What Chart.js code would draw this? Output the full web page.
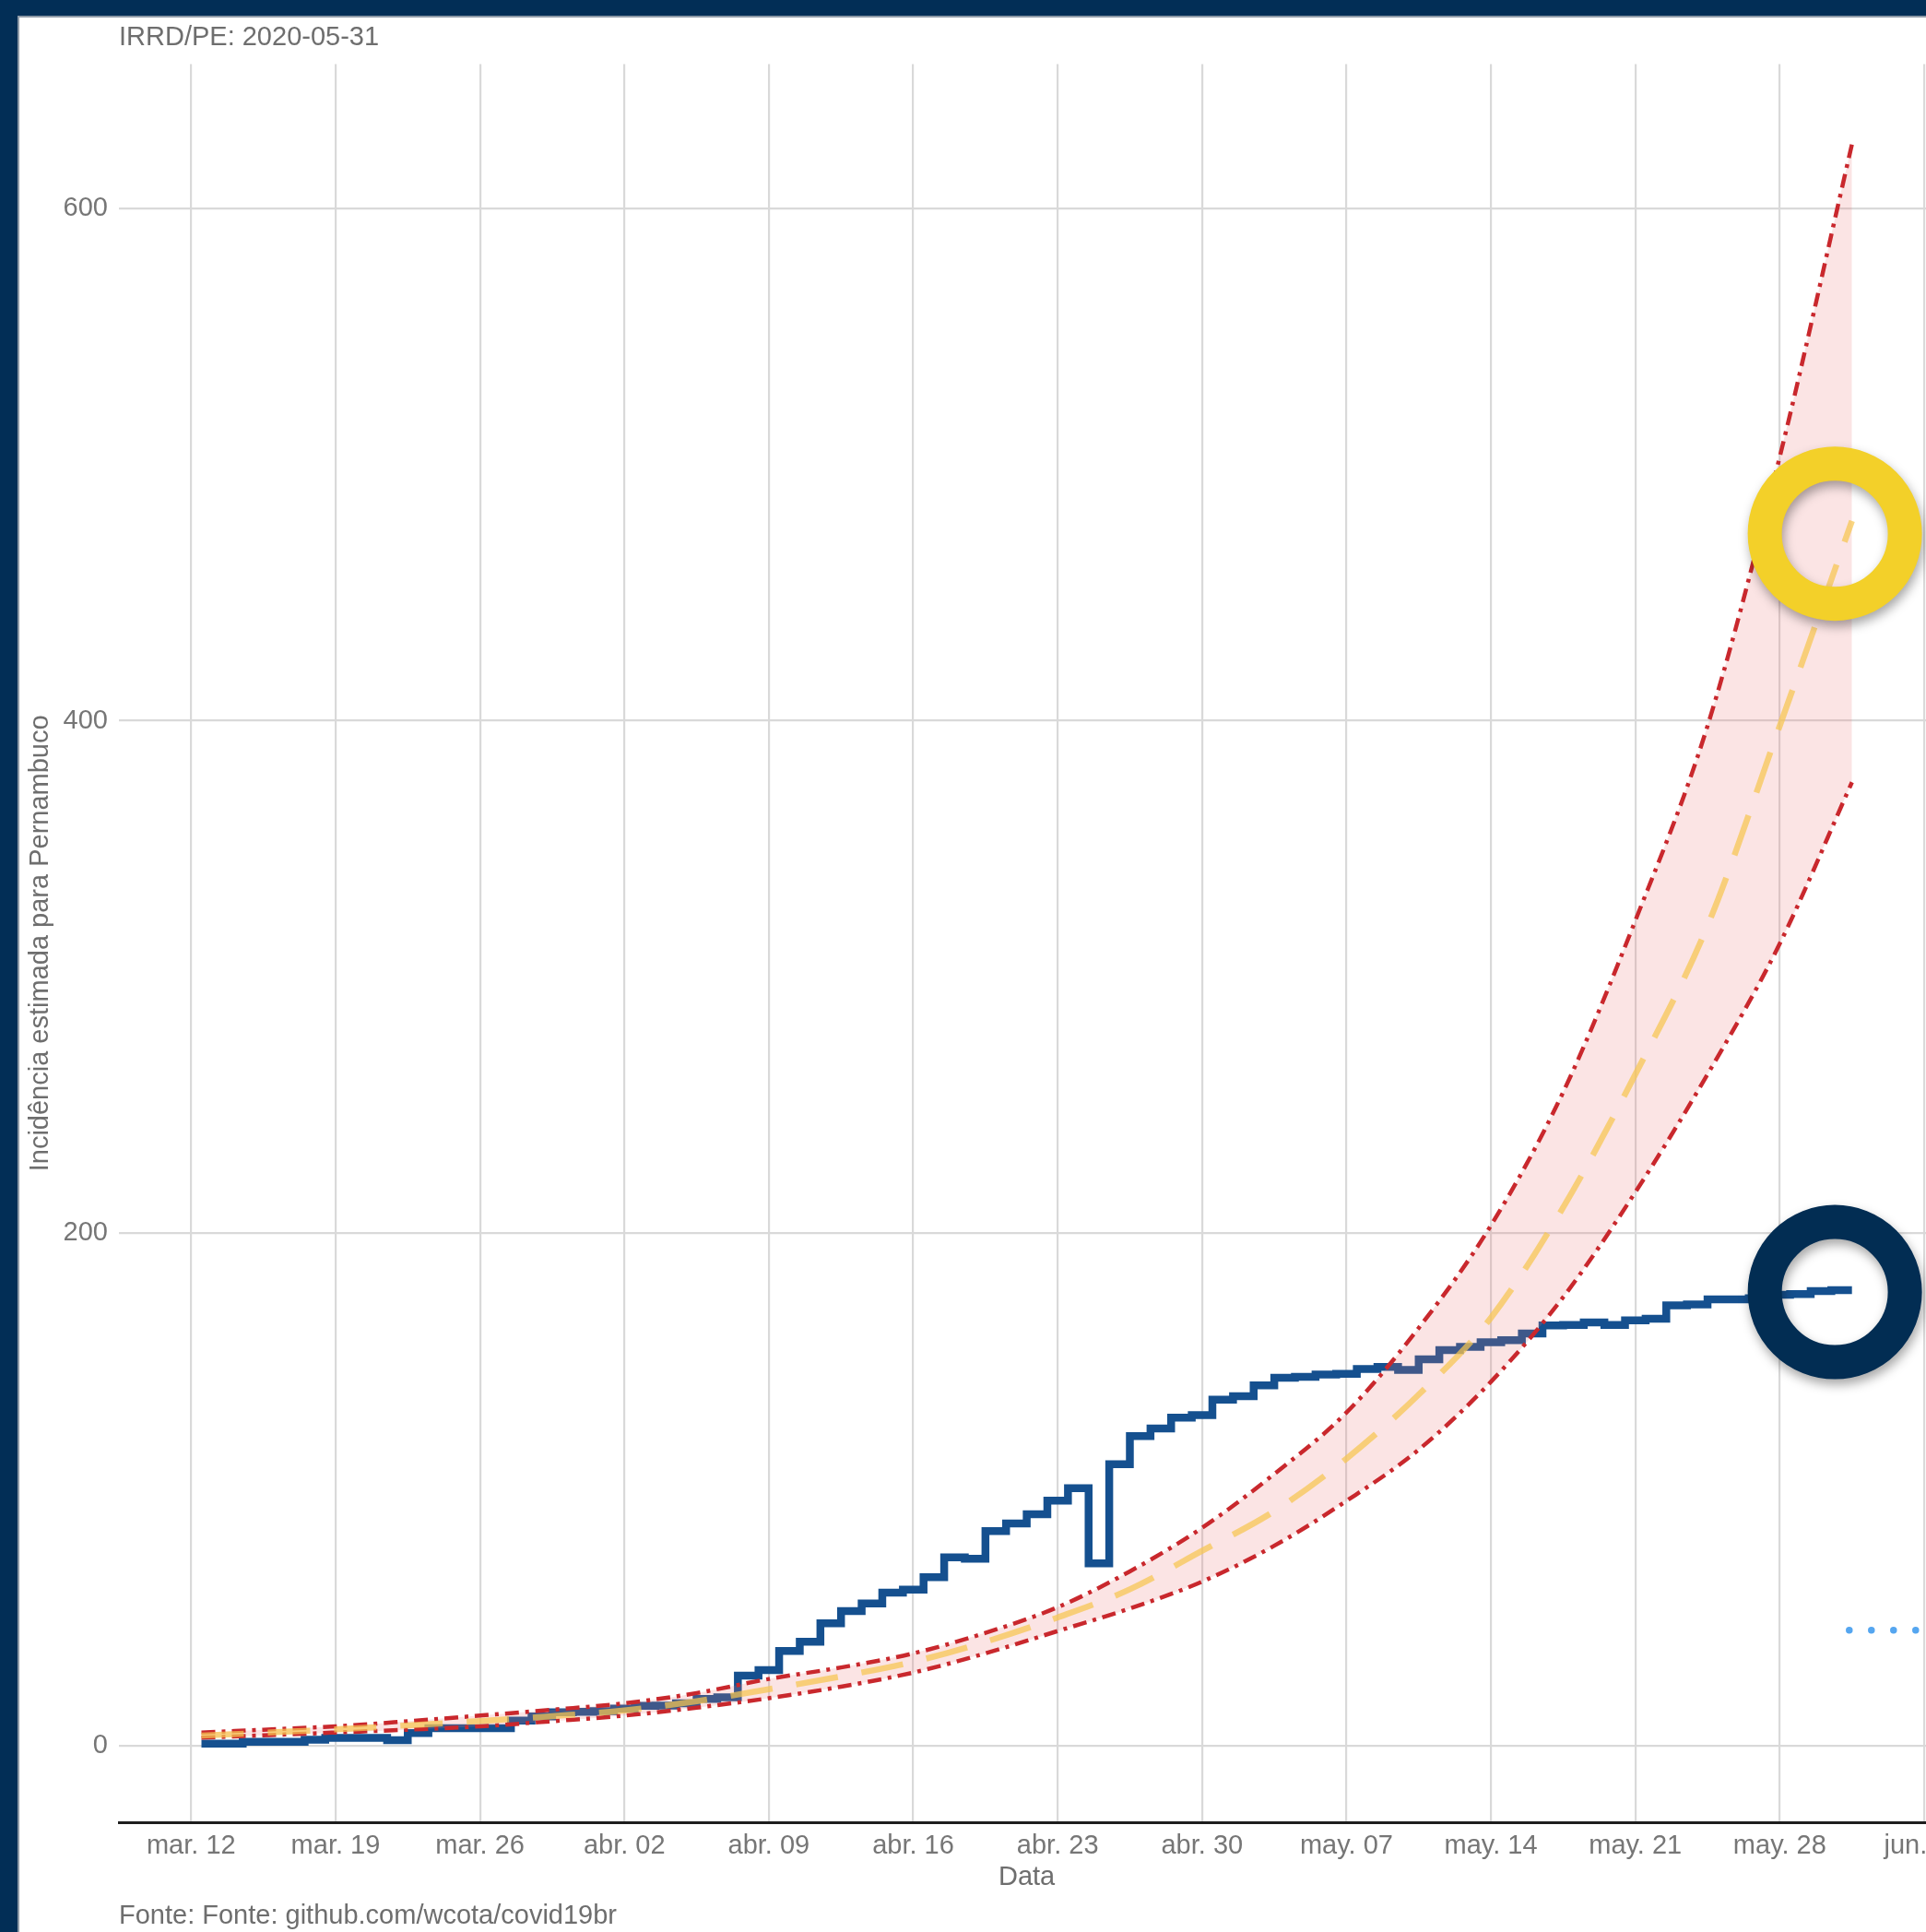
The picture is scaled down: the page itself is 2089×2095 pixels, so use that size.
<!DOCTYPE html>
<html>
<head>
<meta charset="utf-8">
<script src="https://cdn.jsdelivr.net/npm/chart.js@4.4.1/dist/chart.umd.min.js"></script>
<style>
html, body { margin:0; padding:0; overflow:hidden; background:#022e56; width:2089px; height:2095px; }
#panel { position:absolute; left:19px; top:17px; width:2300px; height:2300px; background:#ffffff; border-left:2px solid #8e9aa7; border-top:2px solid #8e9aa7; }
#c { position:absolute; left:0; top:0; }
</style>
</head>
<body>
<div id="panel"></div>
<canvas id="c" width="2160" height="2095"></canvas>
<script>
// ---- data (days after 2020-03-12) ----
const obsDay = [0.5,1.5,2.5,3.5,4.5,5.5,6.5,7.5,8.5,9.5,
  10.5,11.5,12.5,13.5,14.5,15.5,16.5,17.5,18.5,19.5,
  20.5,21.5,22.5,23.5,24.5,25.5,26.5,27.5,28.5,29.5,
  30.5,31.5,32.5,33.5,34.5,35.5,36.5,37.5,38.5,39.5,
  40.5,41.5,42.5,43.5,44.5,45.5,46.5,47.5,48.5,49.5,
  50.5,51.5,52.5,53.5,54.5,55.5,56.5,57.5,58.5,59.5,
  60.5,61.5,62.5,63.5,64.5,65.5,66.5,67.5,68.5,69.5,
  70.5,71.5,72.5,73.5,74.5,75.5,76.5,77.5,78.5,79.5,
  80.5];
const observed = [0.8,0.8,1.5,1.5,1.5,2.3,3.0,3.0,3.0,2.1,
  4.9,6.8,6.8,6.8,6.8,9.8,11.4,13.0,13.2,13.4,
  14.4,15.5,15.6,16.5,18.2,18.8,27.3,29.5,36.9,40.5,
  47.7,52.5,55.5,59.7,60.9,65.7,73.5,72.9,83.7,86.7,
  90.3,95.6,100.5,71.1,109.8,120.8,123.8,128.0,129.0,135.0,
  136.4,140.6,143.6,143.9,144.8,145.1,147.0,147.8,146.6,150.8,
  154.4,155.6,157.4,158.2,160.8,164.0,164.2,165.2,164.2,166.0,
  166.6,171.8,172.2,174.2,174.2,174.6,176.0,176.2,177.4,177.8,
  177.8];

const modelDay = [0.5,3.5,7,10.5,14,17.5,21,24.5,28,31.5,35,38.5,42,45.5,49,52.5,56,59.5,63,66.5,70,73.5,77,80.5];
const upperVals  = [5.1,6.2,7.5,9.5,11.7,14.0,16.5,20.5,26.0,30.5,36.0,44.0,54.0,68.0,85.0,106,130,163,203,255,322,398,503,625];
const medianVals = [3.9,5.0,6.3,7.9,9.6,11.5,13.7,17.3,22.0,27.0,32.7,40.5,50.0,61.0,76.0,91.5,112,137,167,210,262,320,398,478];
const lowerVals  = [3.1,4.0,5.1,6.2,7.5,9.5,11.7,14.8,18.5,23.0,28.5,36.0,44.7,53.5,64.0,78.0,95.5,115.5,142,175,216,262,313,376];

const tickDay = [0,7,14,21,28,35,42,49,56,63,70,77,84];
const tickLabels = ['mar. 12','mar. 19','mar. 26','abr. 02','abr. 09','abr. 16','abr. 23','abr. 30','may. 07','may. 14','may. 21','may. 28','jun. 04'];
const yTicks = [0,200,400,600];

// annotation anchors (data coordinates)
const ringDay = 79.67;
const ringMedian = 473;
const ringObserved = 177;
const dotStartDay = 80.37;
const dotLevel = 45;

// ---- chart ----
const FONT = "'Liberation Sans', Arial, Helvetica, sans-serif";
Chart.defaults.font.family = FONT;
Chart.defaults.font.size = 29;

const pts = (xs, ys) => xs.map((d, i) => ({ x: d, y: ys[i] }));

const annotPlugin = {
  id: 'annot',
  afterDraw(chart) {
    const { ctx, scales: { x, y } } = chart;
    // light blue dotted mark
    ctx.save();
    ctx.strokeStyle = '#55a6f0';
    ctx.lineWidth = 7.5;
    ctx.lineCap = 'round';
    ctx.setLineDash([0, 24]);
    const yd = y.getPixelForValue(dotLevel);
    ctx.beginPath();
    ctx.moveTo(x.getPixelForValue(dotStartDay), yd);
    ctx.lineTo(chart.width, yd);
    ctx.stroke();
    ctx.restore();
    // rings
    [[ringMedian, '#f3d029'], [ringObserved, '#022d53']].forEach(([v, col]) => {
      ctx.save();
      ctx.shadowColor = 'rgba(0,0,0,0.35)';
      ctx.shadowBlur = 12;
      ctx.shadowOffsetX = 2;
      ctx.shadowOffsetY = 6;
      ctx.strokeStyle = col;
      ctx.lineWidth = 37;
      ctx.beginPath();
      ctx.arc(x.getPixelForValue(ringDay), y.getPixelForValue(v), 76, 0, Math.PI * 2);
      ctx.stroke();
      ctx.restore();
    });
  }
};

new Chart(document.getElementById('c').getContext('2d'), {
  type: 'line',
  data: {
    datasets: [
      { label: 'Mediana', data: pts(modelDay, medianVals), borderColor: 'rgba(247,198,80,0.72)', borderWidth: 6.5,
        borderDash: [46, 26], pointRadius: 0, cubicInterpolationMode: 'monotone', fill: false },
      { label: 'Superior', data: pts(modelDay, upperVals), borderColor: '#c9282d', borderWidth: 4.5,
        borderDash: [15, 7, 4, 7], pointRadius: 0, cubicInterpolationMode: 'monotone', fill: false },
      { label: 'Inferior', data: pts(modelDay, lowerVals), borderColor: '#c9282d', borderWidth: 4.5,
        borderDash: [15, 7, 4, 7], pointRadius: 0, cubicInterpolationMode: 'monotone',
        fill: '-1', backgroundColor: 'rgba(235,120,120,0.2)' },
      { label: 'Observado', data: pts(obsDay, observed), borderColor: '#15508f', borderWidth: 8.5,
        stepped: 'before', pointRadius: 0, fill: false, borderJoinStyle: 'miter' }
    ]
  },
  options: {
    responsive: false,
    animation: false,
    devicePixelRatio: 1,
    layout: { padding: { left: 0, right: 61.8, top: 0, bottom: 0 } },
    plugins: {
      legend: { display: false },
      tooltip: { enabled: false },
      title: { display: true, text: 'IRRD/PE: 2020-05-31', align: 'start', fullSize: false, color: '#6e6e6e',
        font: { size: 29, weight: 'normal' }, padding: { top: 23.6, bottom: 11.1 } },
      subtitle: { display: true, position: 'bottom', text: 'Fonte: Fonte: github.com/wcota/covid19br', align: 'start',
        fullSize: false, color: '#6e6e6e', font: { size: 29, weight: 'normal' }, padding: { top: 4, bottom: 0 } }
    },
    scales: {
      x: {
        type: 'linear', min: -3.5, max: 84.5,
        afterBuildTicks: s => { s.ticks = tickDay.map(v => ({ value: v })); },
        afterFit: s => { s.height = 80; },
        ticks: { autoSkip: false, maxRotation: 0, padding: 8, color: '#767676', font: { size: 29 },
          callback: (v, i) => tickLabels[i] },
        grid: { color: '#d9d9d9', lineWidth: 2.2, drawTicks: false },
        border: { display: true, color: '#1e1e1e', width: 3 },
        title: { display: true, text: 'Data', color: '#6e6e6e', font: { size: 29 }, padding: { top: 0, bottom: 2.6 } }
      },
      y: {
        type: 'linear', min: -30, max: 656.3,
        afterBuildTicks: s => { s.ticks = yTicks.map(v => ({ value: v })); },
        afterFit: s => { s.width = 129; },
        ticks: { padding: 12, color: '#767676', font: { size: 29 } },
        grid: { color: '#d9d9d9', lineWidth: 2.2, drawTicks: false },
        border: { display: false },
        title: { display: true, text: 'Incidência estimada para Pernambuco', color: '#6e6e6e', font: { size: 29 },
          padding: { top: 26.6, bottom: 0 } }
      }
    }
  },
  plugins: [annotPlugin]
});
</script>
</body>
</html>
